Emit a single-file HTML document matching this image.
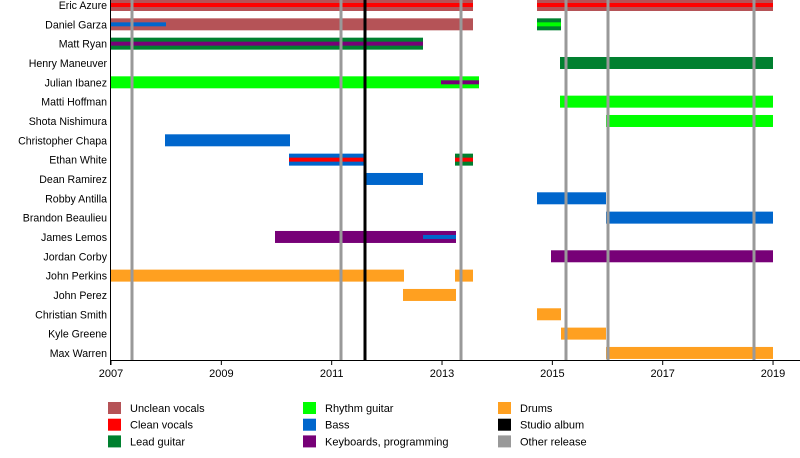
<!DOCTYPE html>
<html><head><style>
html,body{margin:0;padding:0;background:#fff;}
svg{display:block;font-family:"Liberation Sans",Arial,sans-serif;font-size:11px;}
#labels{font-size:10.6px;}
</style></head><body>
<svg id="s" width="800" height="458" xmlns="http://www.w3.org/2000/svg">
<g id="bars"></g>
<g id="lines"></g>
<g id="labels" text-anchor="end"></g>
<line x1="111" y1="360.5" x2="800" y2="360.5" stroke="#000" stroke-width="1"/>
<line x1="110.5" y1="0" x2="110.5" y2="365" stroke="#000" stroke-width="1"/>
<g id="ticks" text-anchor="middle"></g>
<g id="legend"></g>
</svg>
<script>
var NS="http://www.w3.org/2000/svg";
function el(p,t,a,txt){var e=document.createElementNS(NS,t);for(var k in a)e.setAttribute(k,a[k]);if(txt)e.textContent=txt;document.getElementById(p).appendChild(e);}
var C={uv:"#b55357",cv:"#ff0000",lg:"#00802f",rg:"#00ff00",b:"#0066cc",k:"#770077",d:"#ffa020"};
var names=["Eric Azure","Daniel Garza","Matt Ryan","Henry Maneuver","Julian Ibanez","Matti Hoffman","Shota Nishimura","Christopher Chapa","Ethan White","Dean Ramirez","Robby Antilla","Brandon Beaulieu","James Lemos","Jordan Corby","John Perkins","John Perez","Christian Smith","Kyle Greene","Max Warren"];
var bars=[
[0,111,473,"uv","cv"],[0,537,773,"uv","cv"],
[1,111,473,"uv"],[1,111,166,null,"b"],[1,537,561,"lg","rg"],
[2,111,423,"lg","k"],
[3,560,773,"lg"],
[4,111,479,"rg"],[4,441,479,null,"k"],
[5,560,773,"rg"],[6,606,773,"rg"],
[7,165,290,"b"],
[8,289,366,"b","cv"],[8,455,473,"lg","cv"],
[9,365,423,"b"],[10,537,606,"b"],[11,606,773,"b"],
[12,275,456,"k"],[12,423,456,null,"b"],
[13,551,773,"k"],
[14,111,404,"d"],[14,455,473,"d"],
[15,403,456,"d"],[16,537,561,"d"],[17,561,606,"d"],[18,606,773,"d"]];
function cy(i){return 5+19.33*i;}
bars.forEach(function(b){var y=cy(b[0]);
 if(b[3])el("bars","rect",{x:b[1],y:Math.max(0,y-6),width:b[2]-b[1],height:y-6<0?12+(y-6):12,fill:C[b[3]]});
 if(b[4])el("bars","rect",{x:b[1],y:y-2,width:b[2]-b[1],height:4,fill:C[b[4]]});});
[132,341,461,566,608,754].forEach(function(x){el("lines","rect",{x:x-1.5,y:0,width:3,height:360,fill:"#999"});});
el("lines","rect",{x:363.5,y:0,width:3,height:360,fill:"#000"});
names.forEach(function(n,i){el("labels","text",{x:107,y:cy(i)+4},n);});
for(var yr=2007;yr<=2019;yr+=2){var x=111+(yr-2007)*55.17;el("ticks","line",{x1:x,y1:360,x2:x,y2:365,stroke:"#000"});el("ticks","text",{x:x,y:377},String(yr));}
var leg=[["Unclean vocals","uv"],["Clean vocals","cv"],["Lead guitar","lg"],["Rhythm guitar","rg"],["Bass","b"],["Keyboards, programming","k"],["Drums","d"],["Studio album","#000"],["Other release","#999"]];
leg.forEach(function(l,i){var c=Math.floor(i/3),r=i%3;var x=108+c*195,y=402+r*16.7;
 el("legend","rect",{x:x,y:y,width:13,height:12,fill:C[l[1]]||l[1]});
 el("legend","text",{x:x+22,y:y+10},l[0]);});
</script>
</body></html>
